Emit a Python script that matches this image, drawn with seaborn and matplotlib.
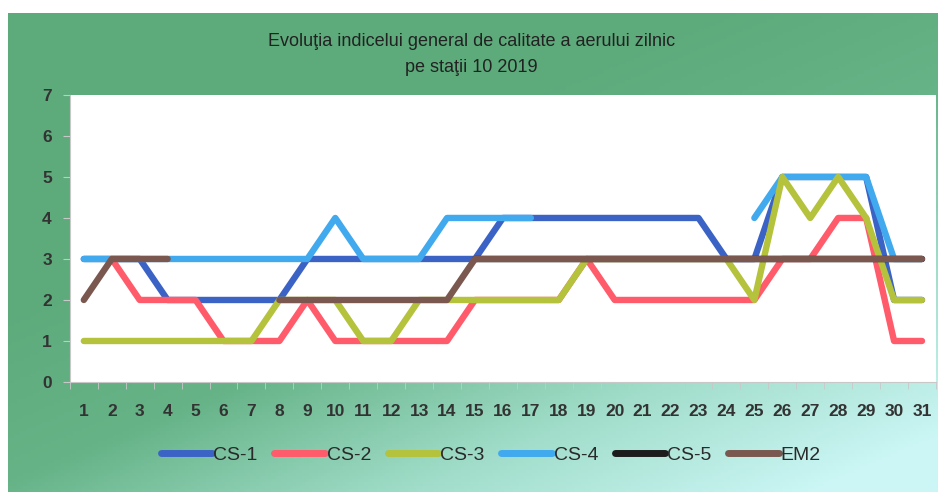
import numpy as np
import pandas as pd
import matplotlib
matplotlib.use('Agg')
import matplotlib.pyplot as plt
import seaborn as sns
from matplotlib.colors import LinearSegmentedColormap
from matplotlib.lines import Line2D

nan = np.nan

# daily air quality index per station, October 2019
days = list(range(1, 32))
cs1 = [3, 3, 3, 2, 2, 2, 2, 2, 3, 3, 3, 3, 3, 3, 3, 4, 4, 4, 4, 4, 4, 4, 4, 3, 3, 5, 5, 5, 5, 2, 2]
cs2 = [nan, 3, 2, 2, 2, 1, 1, 1, 2, 1, 1, 1, 1, 1, 2, 2, 2, 2, 3, 2, 2, 2, 2, 2, 2, 3, 3, 4, 4, 1, 1]
cs3 = [1, 1, 1, 1, 1, 1, 1, 2, 2, 2, 1, 1, 2, 2, 2, 2, 2, 2, 3, 3, 3, 3, 3, 3, 2, 5, 4, 5, 4, 2, 2]
cs4 = [3, 3, 3, 3, 3, 3, 3, 3, 3, 4, 3, 3, 3, 4, 4, 4, 4, nan, nan, nan, nan, nan, nan, nan, 4, 5, 5, 5, 5, 3, 3]
cs5 = [nan] * 14 + [3] * 17
em2 = [2, 3, 3, 3, nan, nan, nan, 2, 2, 2, 2, 2, 2, 2] + [3] * 17

# drawing order (later on top)
series = {'CS-1': cs1, 'CS-4': cs4, 'CS-2': cs2, 'CS-3': cs3, 'CS-5': cs5, 'EM2': em2}
legend_order = ['CS-1', 'CS-2', 'CS-3', 'CS-4', 'CS-5', 'EM2']
colors = {'CS-1': '#3b63c6', 'CS-2': '#ff5b6b', 'CS-3': '#b4c23c',
          'CS-4': '#41a9ee', 'CS-5': '#1c1c1c', 'EM2': '#7a5850'}

fig = plt.figure(figsize=(9.44, 4.92), dpi=100)

# gradient background
bg = fig.add_axes([0.008, 0, 0.985, 0.973])
bg.axis('off')
cmap = LinearSegmentedColormap.from_list('bg', ['#5dab7b', '#66b387', '#9fdcc8', '#cbf6f5'])
gx, gy = np.meshgrid(np.linspace(0, 1, 300), np.linspace(0, 1, 150))
grad = np.clip(0.75 * gx + 0.9 * gy - 0.55, 0, 1)
bg.imshow(grad, cmap=cmap, aspect='auto', extent=[0, 1, 0, 1], origin='upper', vmin=0, vmax=1)

ax = fig.add_axes([0.074, 0.2236, 0.9175, 0.5834])
ax.set_facecolor('white')
for name, vals in series.items():
    df = pd.DataFrame({'day': days, 'val': vals})
    # split into runs so gaps stay open
    df['seg'] = df['val'].isna().cumsum()
    df = df.dropna()
    for _, part in df.groupby('seg'):
        sns.lineplot(data=part, x='day', y='val', ax=ax, color=colors[name],
                     linewidth=4.6, solid_capstyle='round', solid_joinstyle='round')

ax.set_xlim(0.5, 31.5)
ax.set_ylim(0, 7)
ax.set_xlabel('')
ax.set_ylabel('')
ax.set_yticks(range(0, 8))
ax.set_xticks(days)
ax.set_xticks(np.arange(0.5, 32, 1), minor=True)
ax.tick_params(axis='x', which='major', length=0, pad=16)
ax.tick_params(axis='x', which='minor', length=5, color='#c8c8c8', direction='out')
ax.tick_params(axis='y', length=5, color='#c8c8c8', pad=8)
for lab in ax.get_xticklabels() + ax.get_yticklabels():
    lab.set_fontfamily('Liberation Sans')
    lab.set_fontsize(12.5)
    lab.set_fontweight('bold')
    lab.set_color('#333333')
for s in ['top', 'right']:
    ax.spines[s].set_visible(False)
for s in ['left', 'bottom']:
    ax.spines[s].set_color('#c8c8c8')

handles = [Line2D([], [], color=colors[k], linewidth=5, solid_capstyle='round') for k in legend_order]
ax.legend(handles, legend_order, loc='center',
          bbox_to_anchor=(0.52, 0.075), bbox_transform=fig.transFigure, ncol=6,
          frameon=False, handlelength=2.6, handletextpad=0.1, columnspacing=0.85,
          labelcolor='#2a2a2a',
          prop={'family': 'Liberation Sans', 'size': 14})

fig.text(0.4995, 0.89, 'Evoluţia indicelui general de calitate a aerului zilnic\npe staţii 10 2019',
         ha='center', va='center', fontsize=13, family='Liberation Sans',
         color='#222222', linespacing=1.7)

fig.savefig('out.png', dpi=100)
